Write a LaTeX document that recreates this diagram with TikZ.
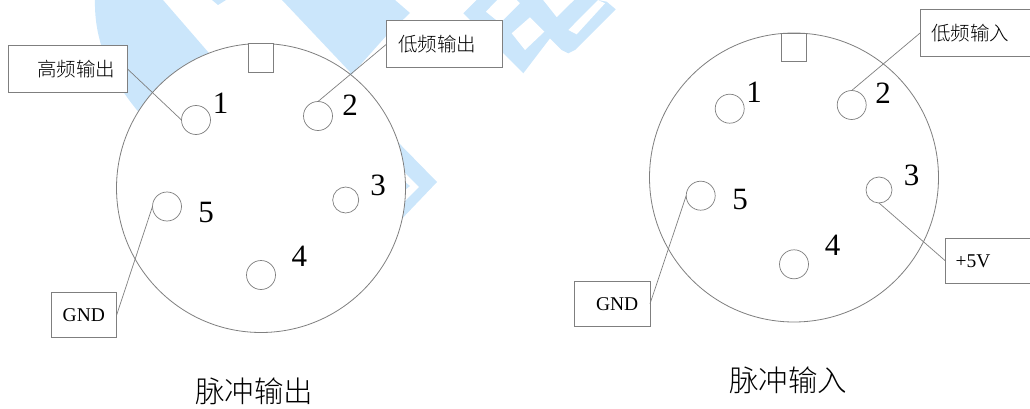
\documentclass[tikz,border=0pt]{standalone}
\usepackage{fontspec}
\setmainfont{Liberation Serif}
\newfontfamily\cjk{Noto Sans CJK SC Light}
\definecolor{wm}{HTML}{CBE6FB}
\definecolor{linec}{HTML}{7F7F7F}
\newcommand{\tagtxt}[3]{\makebox[#1pt][l]{\hspace{#2pt}#3}}
\tikzset{
  x=1pt,y=-1pt,
  shell/.style={circle,draw=linec,fill=white,line width=0.8pt,inner sep=0,outer sep=0,minimum size=289pt},
  notch/.style={rectangle,draw=linec,fill=white,line width=0.8pt,inner sep=0,outer sep=0,minimum width=25pt,minimum height=28.5pt},
  pin/.style={circle,draw=linec,fill=white,line width=0.7pt,inner sep=0,outer sep=0,minimum size=29pt},
  pinsmall/.style={pin,minimum size=26pt},
  num/.style={inner sep=0,outer sep=0,font=\fontsize{31}{31}\selectfont},
  tag/.style={rectangle,draw=linec,fill=white,line width=0.8pt,inner sep=0,outer sep=0,anchor=north west,font=\fontsize{19.5}{20}\selectfont},
  cjktag/.style={tag,font=\fontsize{19.5}{20}\selectfont\cjk},
  title/.style={inner sep=0,outer sep=0,font=\fontsize{29.5}{30}\selectfont\cjk},
  wire/.style={draw=linec,line width=0.7pt}
}
\begin{document}
\begin{tikzpicture}
\useasboundingbox (0,0) rectangle (1030,409);
% watermark
\fill[wm] (95,0) .. controls (94,40) and (110,78) .. (138.3,111.7) -- (145,120) -- (215,60) -- (163,0) -- cycle;
\fill[wm] (212,0) -- (218,5) -- (226,0) -- cycle;
\fill[wm] (282,0) -- (350,72) -- (345,82) -- (387,35) -- (410,13) -- (395,0) -- cycle;
\fill[wm] (463.3,13.3) -- (476.7,0) -- (497,0) -- (485.7,11.7) -- (500,23.3) -- (520,3.3) -- (517,0) -- (543,0) -- (556.7,17.3) -- (574.3,0) -- (598,0) -- (606.7,1.7) -- (615.7,9.3) -- (575,50) -- (568.3,53.3) -- (561.7,50) -- (550,38.3) -- (523.3,73.3) -- cycle;
\fill[white] (511.7,33.3) -- (530,17.3) -- (544.3,31.7) -- (525,50) -- cycle;
\fill[white] (568.3,30) -- (576.7,34.3) -- (605,3.3) -- (598,0) -- cycle;
\fill[wm] (390,134) -- (437,182) -- (395,226) -- (404,202) -- (419,187) -- (404,172) -- cycle;
\fill[wm] (400,178) -- (410,186) -- (400,194) -- cycle;
% left connector
\node[shell] (shellL) at (261,188) {};
\node[notch] (notchL) at (260.5,57.8) {};
\node[pin] (L1) at (196,120) {};
\node[pin] (L2) at (318,116) {};
\node[pinsmall] (L3) at (345.7,200) {};
\node[pin] (L4) at (261,275) {};
\node[pin] (L5) at (167,206.5) {};
\node[num] (nL1) at (220.7,103) {1};
\node[num] (nL2) at (350,105) {2};
\node[num] (nL3) at (378,185.7) {3};
\node[num] (nL4) at (299.3,256.7) {4};
\node[num] (nL5) at (206,213) {5};
\node[cjktag,minimum width=119.5pt,minimum height=47pt] (tL1) at (8,45.5) {\tagtxt{119.5}{29}{高频输出}};
\node[cjktag,minimum width=115.6pt,minimum height=47.4pt] (tL2) at (386.7,20.3) {\tagtxt{115.6}{11.5}{低频输出}};
\node[tag,minimum width=65.4pt,minimum height=45pt] (tL5) at (51.3,292.3) {\tagtxt{65.4}{11.4}{GND}};
\draw[wire] (tL1.east) -- (L1.west);
\draw[wire] (tL2.west) -- (L2.north);
\draw[wire] (tL5.east) -- (L5.west);
\node[title] (titleL) at (254,391.7) {脉冲输出};
% right connector
\node[shell] (shellR) at (794,177.5) {};
\node[notch] (notchR) at (794.2,47.5) {};
\node[pin] (R1) at (729.7,108.7) {};
\node[pin] (R2) at (851.7,105) {};
\node[pinsmall] (R3) at (879,190) {};
\node[pin] (R4) at (794,264.3) {};
\node[pin] (R5) at (700.7,195.7) {};
\node[num] (nR1) at (754,92.3) {1};
\node[num] (nR2) at (883,93.3) {2};
\node[num] (nR3) at (911.7,175) {3};
\node[num] (nR4) at (832.7,245.7) {4};
\node[num] (nR5) at (740,200) {5};
\node[cjktag,minimum width=113pt,minimum height=47.7pt] (tR2) at (920.3,9) {\tagtxt{113}{11}{低频输入}};
\node[tag,minimum width=88pt,minimum height=45pt] (tR3) at (945.3,238.3) {\tagtxt{88}{10.4}{+5V}};
\node[tag,minimum width=75.7pt,minimum height=45pt] (tR5) at (574.3,281.3) {\tagtxt{75.7}{21.7}{GND}};
\draw[wire] (tR2.west) -- (R2.north);
\draw[wire] (tR3.west) -- (R3.south);
\draw[wire] (tR5.east) -- (R5.west);
\node[title] (titleR) at (788,380.7) {脉冲输入};
\end{tikzpicture}
\end{document}
